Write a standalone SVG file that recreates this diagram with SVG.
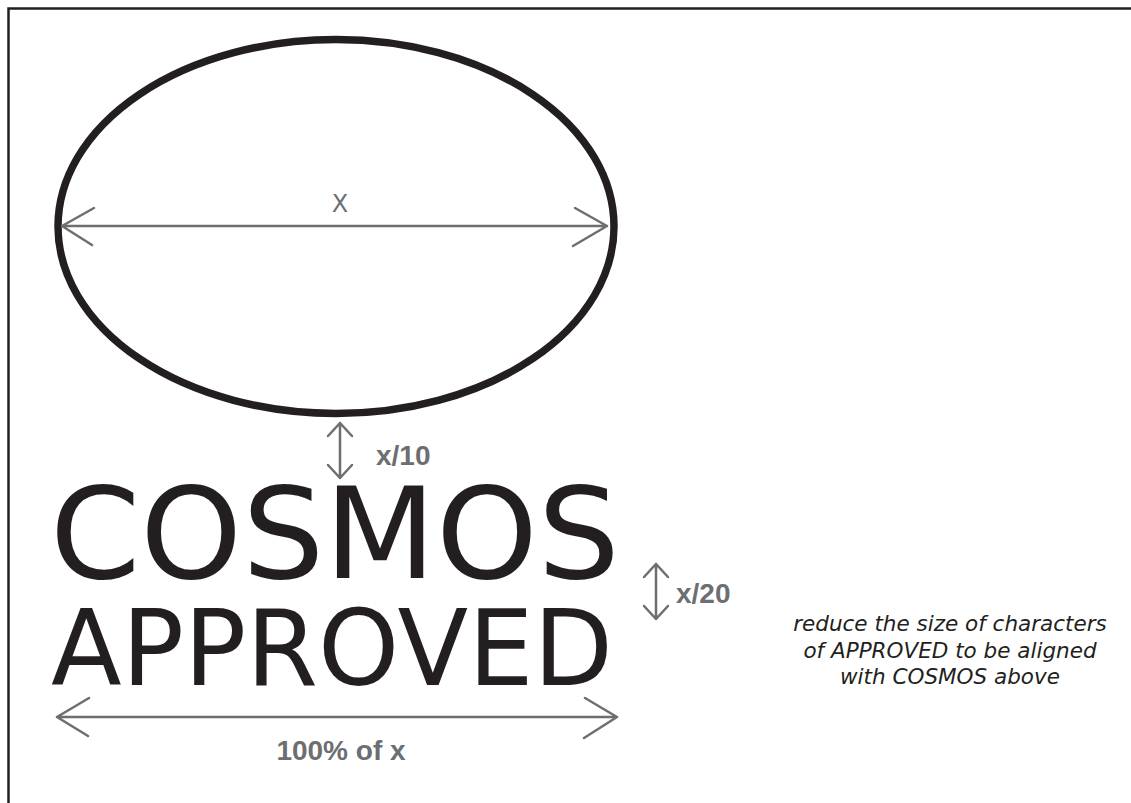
<svg xmlns="http://www.w3.org/2000/svg" width="1131" height="803" viewBox="0 0 1131 803">
<style>
.dim{fill:none;stroke:#6d6e71;stroke-width:2.5;stroke-linecap:round;stroke-linejoin:round}
.big{font-family:"DejaVu Sans",Verdana,sans-serif;fill:#231f20}
.lbl{font-family:"Liberation Sans",Arial,sans-serif;font-weight:bold;fill:#6d6e71}
.note{font-family:"DejaVu Sans",Verdana,sans-serif;font-style:italic;font-size:21.5px;fill:#231f20;text-anchor:middle}
</style>
<rect x="0" y="0" width="1131" height="803" fill="#fff"/>
<path d="M8.5 803 V8.5 H1131" fill="none" stroke="#231f20" stroke-width="2.5"/>
<g id="emblem">
<ellipse cx="336" cy="226.5" rx="278" ry="187" fill="none" stroke="#231f20" stroke-width="7.5"/>
</g>
<g id="connectors">
<path class="dim" d="M62 226 H607 M94 208 L62 226 L92 245 M575 208 L607 226 L573 246"/>
<path class="dim" d="M340 423 V478 M328 436 L340 423 L352 436 M328 465 L340 478 L352 465"/>
<path class="dim" d="M656 564 V619 M644 577 L656 564 L668 577 M644 606 L656 619 L668 606"/>
<path class="dim" d="M57 717 H617 M89 698 L57 717 L88 736 M585 698 L617 717 L584 738"/>
</g>
<g id="label-x"><text x="340" y="212" font-family="DejaVu Sans,sans-serif" font-size="24" fill="#6d6e71" text-anchor="middle">X</text></g>
<g id="label-x10"><text class="lbl" x="376" y="465" font-size="28">x/10</text></g>
<g id="label-x20"><text class="lbl" x="676" y="603" font-size="28">x/20</text></g>
<g id="label-100"><text class="lbl" x="341" y="760" font-size="28" text-anchor="middle">100% of x</text></g>
<g id="cosmos"><text class="big" x="50" y="578" font-size="127" textLength="570" lengthAdjust="spacingAndGlyphs">COSMOS</text></g>
<g id="approved"><text class="big" x="51" y="685" font-size="105" textLength="562" lengthAdjust="spacingAndGlyphs">APPROVED</text></g>
<g id="note">
<text class="note" x="950" y="631">reduce the size of characters</text>
<text class="note" x="950" y="658">of APPROVED to be aligned</text>
<text class="note" x="950" y="684">with COSMOS above</text>
</g>
</svg>
